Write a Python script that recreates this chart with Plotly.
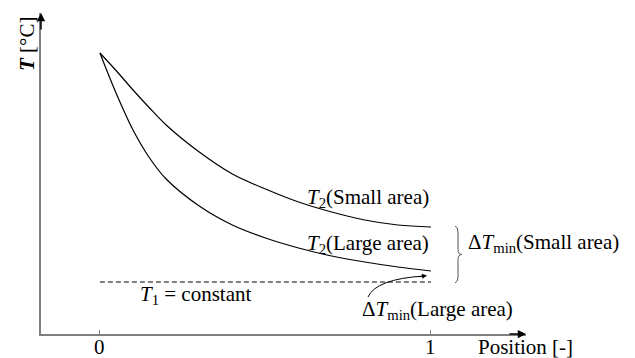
import plotly.graph_objects as go

# ---- data ----
position = [0, 0.05, 0.1, 0.15, 0.2, 0.3, 0.4, 0.5, 0.6, 0.7, 0.8, 0.9, 1.0]
t2_small = [281, 263, 244, 226, 209, 182, 160, 145, 132, 122, 114, 109, 107]
t2_large = [281, 240, 204, 176, 155, 128, 109, 96, 86, 78, 72, 67, 63]
pos_t1 = [0, 1]
t1 = [52, 52]
tick_vals = [0, 1]
tick_text = ["0", "1"]

W, H = 635, 358
L, R, T, B = 41, 109, 13, 24
X0, X1 = -0.178, 1.287
Y0, Y1 = 0, 321
FONT = "Liberation Serif"
FS = 21


def dx(px):
    return X0 + (px - L) / (W - L - R) * (X1 - X0)


def dy(py):
    return Y0 + (H - B - py) / (H - B - T) * (Y1 - Y0)


def pxp(px):
    return (px - L) / (W - L - R)


def pyp(py):
    return (H - B - py) / (H - B - T)


fig = go.Figure()
fig.add_trace(go.Scatter(x=position, y=t2_small, mode="lines",
                         line=dict(color="black", width=1.2, shape="spline", smoothing=1)))
fig.add_trace(go.Scatter(x=position, y=t2_large, mode="lines",
                         line=dict(color="black", width=1.2, shape="spline", smoothing=1)))
fig.add_trace(go.Scatter(x=pos_t1, y=t1, mode="lines",
                         line=dict(color="black", width=1, dash="5px,3px")))

font = dict(family=FONT, size=FS, color="black")
ann = []


def text(px, py, s, xanchor="center", angle=0):
    ann.append(dict(x=pxp(px), y=pyp(py), xref="paper", yref="paper", text=s, showarrow=False,
                    xanchor=xanchor, yanchor="middle", font=font, textangle=angle))


text(368, 198, "<i>T</i><sub>2</sub>(Small area)")
text(368, 244, "<i>T</i><sub>2</sub>(Large area)")
text(466, 243, "Δ<i>T</i><sub>min</sub>(Small area)", xanchor="left")
text(196, 295, "<i>T</i><sub>1</sub> = constant")
text(437, 310, "Δ<i>T</i><sub>min</sub>(Large area)")
text(525, 347, "Position [-]")
text(27, 44, "<b><i>T</i></b> [°C]", angle=-90)

# tick labels placed at the axis tick values
for v, s in zip(tick_vals, tick_text):
    ann.append(dict(x=v, y=pyp(347), xref="x", yref="paper", text=s, showarrow=False,
                    xanchor="center", yanchor="middle", font=font))

# axis arrowheads
ann.append(dict(x=X1, y=Y0, xref="x", yref="y", ax=-18, ay=0, showarrow=True,
                arrowhead=2, arrowsize=1.1, arrowwidth=1.5, arrowcolor="black", text=""))
ann.append(dict(x=X0, y=Y1, xref="x", yref="y", ax=0, ay=18, showarrow=True,
                arrowhead=2, arrowsize=1.1, arrowwidth=1.5, arrowcolor="black", text=""))
# curved pointer arrowhead
ann.append(dict(x=dx(427), y=dy(275.5), xref="x", yref="y", ax=-9, ay=1.5, showarrow=True,
                arrowhead=2, arrowsize=1, arrowwidth=1, arrowcolor="black", text=""))

shapes = []
# curved pointer
shapes.append(dict(type="path", xref="x", yref="y",
                   path=f"M {dx(368)},{dy(297)} Q {dx(376)},{dy(279)} {dx(424)},{dy(276)}",
                   line=dict(color="black", width=1)))
# brace
bx = 458
yt, yb = 226, 283
ym = (yt + yb) / 2
p = (f"M {dx(bx-3)},{dy(yt)} Q {dx(bx)},{dy(yt+1)} {dx(bx)},{dy(yt+6)} "
     f"L {dx(bx)},{dy(ym-5)} Q {dx(bx)},{dy(ym)} {dx(bx+4)},{dy(ym)} "
     f"Q {dx(bx)},{dy(ym)} {dx(bx)},{dy(ym+5)} "
     f"L {dx(bx)},{dy(yb-6)} Q {dx(bx)},{dy(yb-1)} {dx(bx-3)},{dy(yb)}")
shapes.append(dict(type="path", xref="x", yref="y", path=p,
                   line=dict(color="#555555", width=1)))

fig.update_layout(
    width=W, height=H, margin=dict(l=L, r=R, t=T, b=B),
    paper_bgcolor="white", plot_bgcolor="white", showlegend=False,
    annotations=ann, shapes=shapes,
    xaxis=dict(range=[X0, X1], showgrid=False, zeroline=False, showline=True,
               linecolor="#808080", linewidth=1.5, ticks="inside", ticklen=4,
               tickcolor="#808080", tickwidth=1, tickvals=tick_vals,
               showticklabels=False, automargin=False),
    yaxis=dict(range=[Y0, Y1], showgrid=False, zeroline=False, showline=True,
               linecolor="#808080", linewidth=1.5, ticks="", showticklabels=False,
               automargin=False),
)
fig.write_html("out.html")
